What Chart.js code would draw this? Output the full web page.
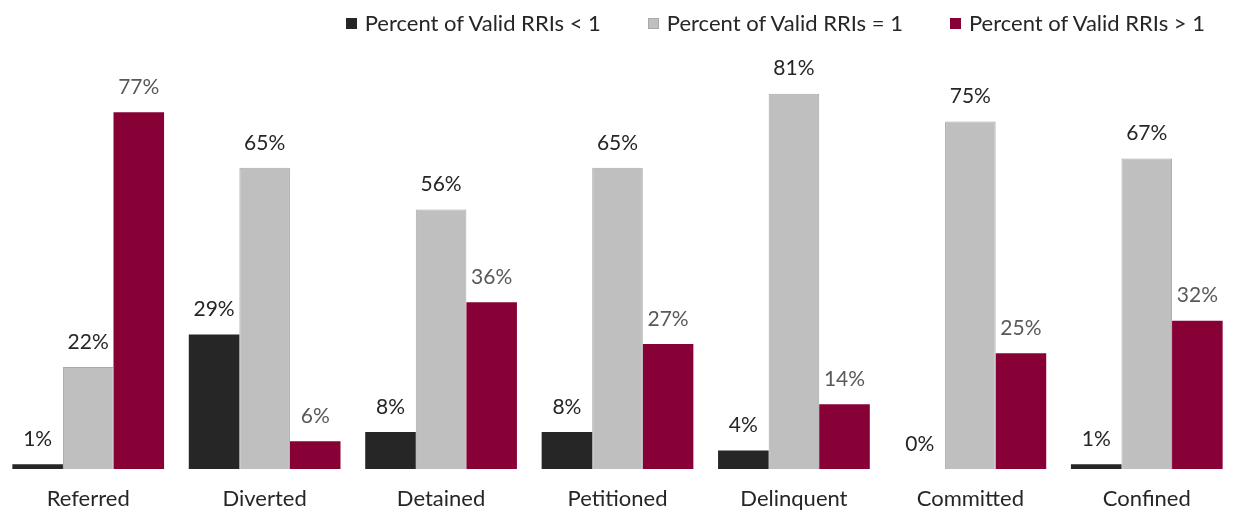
<!DOCTYPE html>
<html lang="en">
<head>
  <meta charset="UTF-8" />
  <title>Valid RRIs by decision point</title>
  <script src="https://cdn.jsdelivr.net/npm/chart.js"></script>
  <style>
    html, body { margin: 0; padding: 0; background: #fff; overflow: hidden; }
    .chart-container { position: relative; width: 1235px; height: 529px; }
    #legenda {
      position: absolute; top: 8px; right: 30px;
      display: flex; gap: 47px;
      font-family: Lato, "Open Sans", sans-serif; font-size: 22px; color: #262626;
      line-height: 30px;
    }
    #legenda .item { display: flex; align-items: center; white-space: nowrap; }
    #legenda .caixa { width: 11px; height: 11px; margin-right: 8px; box-sizing: border-box; }
  </style>
</head>
<body>
  <div class="chart-container">
    <canvas id="chartRRI"></canvas>
    <div id="legenda"></div>
  </div>

  <script>
    const categorias = ['Referred', 'Diverted', 'Detained', 'Petitioned', 'Delinquent', 'Committed', 'Confined'];
    const menorQue1 = [1, 29, 8, 8, 4, 0, 1];
    const igualA1 = [22, 65, 56, 65, 81, 75, 67];
    const maiorQue1 = [77, 6, 36, 27, 14, 25, 32];
    const legendas = ['Percent of Valid RRIs < 1', 'Percent of Valid RRIs = 1', 'Percent of Valid RRIs > 1'];

    const fonte = 'Lato, "Open Sans", sans-serif';

    // escreve o valor em cima de cada barra
    const rotulosBarras = {
      id: 'rotulosBarras',
      afterDatasetsDraw(chart) {
        const ctx = chart.ctx;
        ctx.save();
        ctx.font = '21px ' + fonte;
        ctx.textAlign = 'center';
        ctx.textBaseline = 'middle';
        chart.data.datasets.forEach((ds, i) => {
          const meta = chart.getDatasetMeta(i);
          ctx.fillStyle = i === 2 ? '#595959' : '#262626';
          meta.data.forEach((bar, j) => {
            ctx.fillText(ds.data[j] + '%', bar.x, bar.y - 25);
          });
        });
        ctx.restore();
      }
    };

    const grafico = new Chart(document.getElementById('chartRRI'), {
      type: 'bar',
      data: {
        labels: categorias,
        datasets: [
          { label: legendas[0], data: menorQue1, backgroundColor: '#262626', borderWidth: 0 },
          { label: legendas[1], data: igualA1, backgroundColor: '#bfbfbf', borderColor: '#a9a9a9', borderWidth: 1 },
          { label: legendas[2], data: maiorQue1, backgroundColor: '#870036', borderWidth: 0 }
        ]
      },
      options: {
        responsive: true,
        maintainAspectRatio: false,
        animation: false,
        layout: { padding: { left: 0, right: 0, top: 45, bottom: 0 } },
        datasets: { bar: { barPercentage: 1, categoryPercentage: 0.86 } },
        plugins: {
          tooltip: { enabled: false },
          legend: { display: false }
        },
        scales: {
          x: {
            grid: { display: false, drawTicks: false },
            border: { display: false },
            ticks: { color: '#262626', padding: 19, font: { family: fonte, size: 22, lineHeight: 1 } }
          },
          y: {
            display: false,
            min: 0,
            max: 91.5
          }
        }
      },
      plugins: [rotulosBarras]
    });

    // legenda em html, montada a partir dos datasets
    const legendaDiv = document.getElementById('legenda');
    grafico.data.datasets.forEach(ds => {
      const item = document.createElement('div');
      item.className = 'item';
      const caixa = document.createElement('span');
      caixa.className = 'caixa';
      caixa.style.background = ds.backgroundColor;
      if (ds.borderWidth) caixa.style.border = '1px solid ' + ds.borderColor;
      item.appendChild(caixa);
      item.appendChild(document.createTextNode(ds.label));
      legendaDiv.appendChild(item);
    });
  </script>
</body>
</html>
